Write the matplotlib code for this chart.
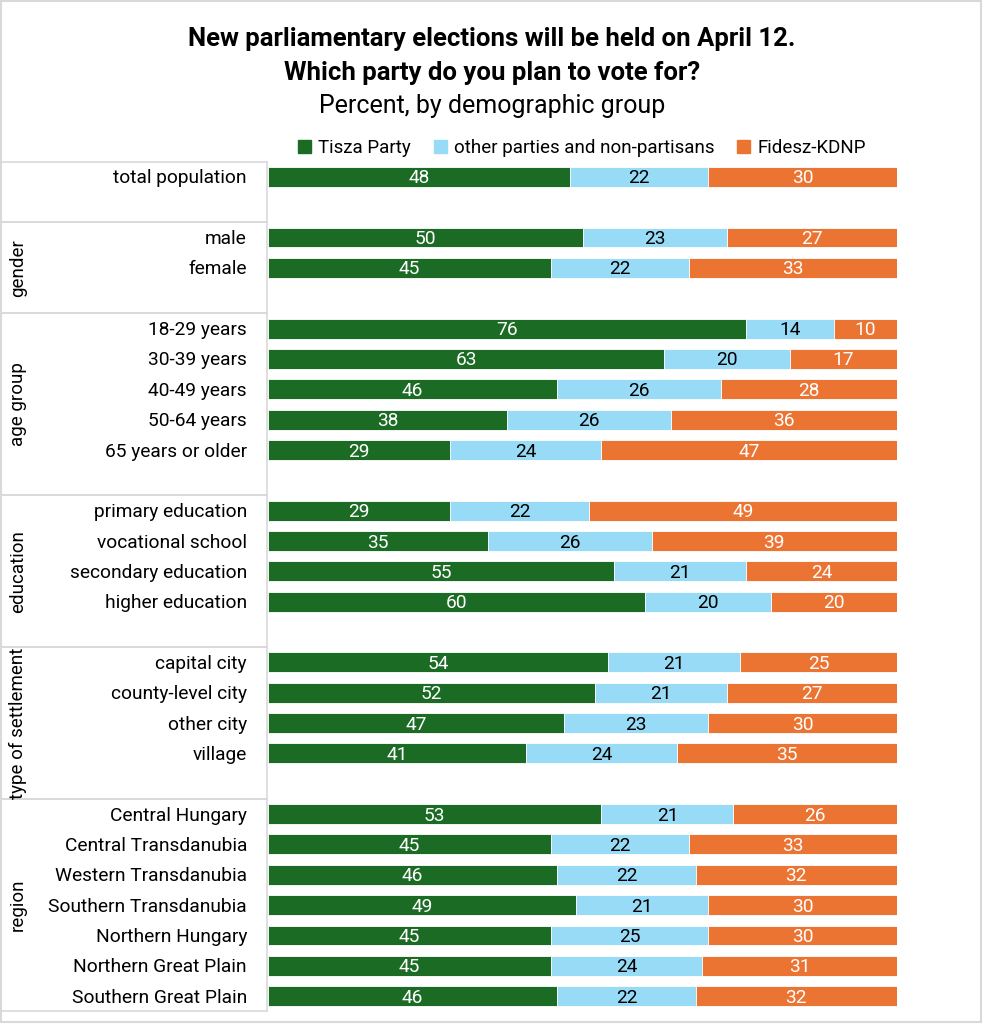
import matplotlib
matplotlib.use("Agg")
import matplotlib.pyplot as plt
import matplotlib.patches as mpatches
import matplotlib.transforms as mtrans
from matplotlib.lines import Line2D

plt.rcParams['font.family'] = ['Roboto', 'DejaVu Sans']

# --- data ---
kategori = [
    "total population", "",
    "male", "female", "",
    "18-29 years", "30-39 years", "40-49 years", "50-64 years", "65 years or older", "",
    "primary education", "vocational school", "secondary education", "higher education", "",
    "capital city", "county-level city", "other city", "village", "",
    "Central Hungary", "Central Transdanubia", "Western Transdanubia", "Southern Transdanubia",
    "Northern Hungary", "Northern Great Plain", "Southern Great Plain",
]
tisza = [48, None, 50, 45, None, 76, 63, 46, 38, 29, None, 29, 35, 55, 60, None,
         54, 52, 47, 41, None, 53, 45, 46, 49, 45, 45, 46]
lainnya = [22, None, 23, 22, None, 14, 20, 26, 26, 24, None, 22, 26, 21, 20, None,
           21, 21, 23, 24, None, 21, 22, 22, 21, 25, 24, 22]
fidesz = [30, None, 27, 33, None, 10, 17, 28, 36, 47, None, 49, 39, 24, 20, None,
          25, 27, 30, 35, None, 26, 33, 32, 30, 30, 31, 32]

# nama grup, batas atas, batas bawah (satuan baris)
grup = [("", -0.5, 1.5), ("gender", 1.5, 4.5), ("age group", 4.5, 10.5),
        ("education", 10.5, 15.5), ("type of settlement", 15.5, 20.5),
        ("region", 20.5, 27.5)]

seri = ["Tisza Party", "other parties and non-partisans", "Fidesz-KDNP"]
warna = ["#1b6b25", "#97dbf7", "#ec7433"]
warna_teks = ["white", "black", "white"]

W, H = 983, 1024
fig = plt.figure(figsize=(W / 100, H / 100), dpi=100)
ax = fig.add_axes([268 / W, 1 - 1011.2 / H, 629 / W, (1011.2 - 161.8) / H])

geser = 0.05  # teks sedikit turun supaya pas di tengah batang

for i, nama in enumerate(kategori):
    if tisza[i] is None:
        continue
    kiri = 0
    for nilai, c, tc in zip((tisza[i], lainnya[i], fidesz[i]), warna, warna_teks):
        ax.barh(i, nilai, left=kiri, height=0.65, color=c, edgecolor="white", linewidth=0.6)
        ax.text(kiri + nilai / 2, i + geser, str(nilai), ha="center", va="center",
                color=tc, fontsize=13.8)
        kiri += nilai

ax.set_xlim(0, 100)
ax.set_ylim(27.5, -0.5)
ax.axis("off")

tr = mtrans.blended_transform_factory(fig.transFigure, ax.transData)

# label kategori
for i, nama in enumerate(kategori):
    if nama:
        fig.text(247 / W, i + geser, nama, ha="right", va="center", fontsize=13.8, transform=tr)

# tabel kiri
garis = "#d9d9d9"
for nama, y0, y1 in grup:
    for y in (y0, y1):
        fig.add_artist(Line2D([1 / W, 267 / W], [y, y], transform=tr, color=garis, lw=1.2))
    fig.add_artist(Line2D([267 / W, 267 / W], [y0, y1], transform=tr, color=garis, lw=1.2))
    if nama:
        fig.text(18 / W, (y0 + y1) / 2, nama, transform=tr, rotation=90,
                 ha="center", va="center", fontsize=13.5)

# bingkai
fig.add_artist(mpatches.Rectangle((0.5 / W, 2 / H), 980.5 / W, 1 - 2.5 / H,
                                  transform=fig.transFigure, fill=False,
                                  edgecolor=garis, lw=1.5))

# judul
fig.text(492 / W, 1 - 39 / H, "New parliamentary elections will be held on April 12.",
         ha="center", va="center", fontsize=18.5, fontweight="bold")
fig.text(492 / W, 1 - 73 / H, "Which party do you plan to vote for?",
         ha="center", va="center", fontsize=18.5, fontweight="bold")
fig.text(492 / W, 1 - 106 / H, "Percent, by demographic group",
         ha="center", va="center", fontsize=18)

handles = [mpatches.Patch(color=c, label=s) for s, c in zip(seri, warna)]
fig.legend(handles=handles, loc="center", bbox_to_anchor=(582 / W, 1 - 148 / H),
           ncol=3, frameon=False, fontsize=13.5, handlelength=0.7, handleheight=0.7,
           handletextpad=0.4, columnspacing=1.2, borderaxespad=0)

fig.savefig("out.png", dpi=100)
